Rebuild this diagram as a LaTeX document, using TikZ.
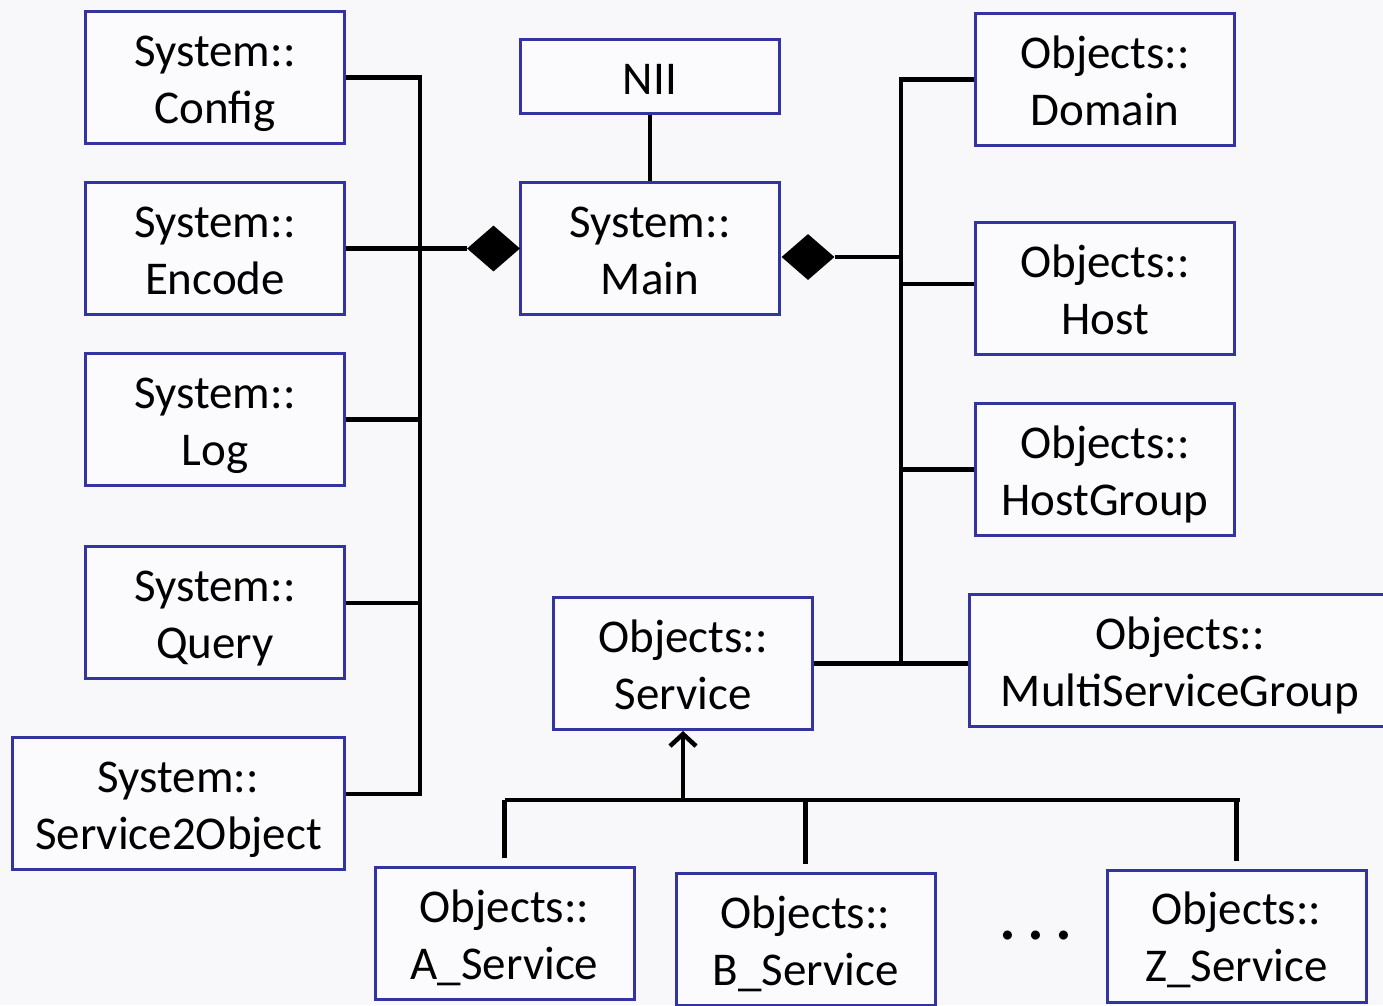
\documentclass[tikz,border=0pt]{standalone}
\usepackage{fontspec}
\setmainfont{Carlito}
\usetikzlibrary{shapes.geometric,arrows.meta}
\definecolor{boxblue}{RGB}{52,52,160}
\definecolor{boxfill}{RGB}{251,251,253}
\definecolor{bgcol}{RGB}{248,248,251}
\newcommand\twolines[2]{\rule{0pt}{46pt}#1\\#2\rule[-12pt]{0pt}{12pt}}
\tikzset{
  box/.style={draw=boxblue, line width=3pt, fill=boxfill, minimum width=259pt,
    minimum height=132pt, align=center, inner sep=0pt,
    font=\fontsize{47}{57}\selectfont},
  conn/.style={line width=4.5pt, draw=black},
  dmd/.style={diamond, fill=black, draw=none, inner sep=0pt, minimum width=53pt, minimum height=46pt},
}
\begin{document}
\begin{tikzpicture}[x=1pt,y=-1pt]
\fill[bgcol] (0,0) rectangle (1383,1005);
\useasboundingbox (0,0) rectangle (1383,1005);
% left column
\node[box] (config) at (215,77.5) {\twolines{System::}{Config}};
\node[box] (encode) at (215,248.5) {\twolines{System::}{Encode}};
\node[box] (log) at (215,419.5) {\twolines{System::}{Log}};
\node[box] (query) at (215,612.5) {\twolines{System::}{Query}};
\node[box, minimum width=332pt] (s2o) at (178.5,803.5) {\twolines{System::}{Service2Object}};
% centre
\node[box, minimum height=74pt] (nii) at (650,76.5) {\rule{0pt}{36pt}NII};
\node[box] (main) at (650,248.5) {\twolines{System::}{Main}};
\node[dmd] (dL) at (493.5,248.5) {};
\node[dmd] (dR) at (808,257) {};
% right column
\node[box] (domain) at (1105,79.5) {\twolines{Objects::}{Domain}};
\node[box] (host) at (1105,288.5) {\twolines{Objects::}{Host}};
\node[box] (hostgroup) at (1105,469.5) {\twolines{Objects::}{HostGroup}};
\node[box, minimum width=421pt] (msg) at (1180,660.5) {\twolines{Objects::}{MultiServiceGroup}};
\node[box] (service) at (683,663.5) {\twolines{Objects::}{Service}};
% bottom row
\node[box] (aserv) at (504.5,933.5) {\twolines{Objects::}{A\_Service}};
\node[box] (bserv) at (805.5,939.5) {\twolines{Objects::}{B\_Service}};
\node[box] (zserv) at (1236.5,936) {\twolines{Objects::}{Z\_Service}};
\node[font=\fontsize{75}{75}\selectfont, inner sep=0pt] (dots) at (1036,936) {.\hspace{9pt}.\hspace{9pt}.};
% left bus
\coordinate (lbt) at (420,77.5);
\coordinate (lbb) at (420,794);
\draw[conn] (config.east) -- (lbt) -- (lbb) -- ([yshift=9.5pt]s2o.east);
\draw[conn] (encode.east) -- (dL.west);
\draw[conn] (log.east) -- (log.east -| lbt);
\draw[conn] ([yshift=9.5pt]query.east) -- ([yshift=9.5pt]query.east -| lbt);
% centre
\draw[conn] (nii) -- (main);
% right bus
\coordinate (rbt) at (901,79.5);
\coordinate (rbb) at (901,663.5);
\draw[conn] (domain.west) -- (rbt) -- (rbb);
\draw[conn] (dR.east) -- (dR.east -| rbt);
\draw[conn] ([yshift=4.5pt]host.west) -- ([yshift=4.5pt]host.west -| rbt);
\draw[conn] (hostgroup.west) -- (hostgroup.west -| rbt);
\draw[conn] (service.east) -- (service.east -| msg.west);
% inheritance
\coordinate (bb1) at (504.5,800);
\coordinate (bb2) at (1240,800);
\draw[conn] (bb1) -- (bb2);
\draw[conn, shorten <=8pt] (aserv.north) -- (aserv.north |- bb1);
\draw[conn, shorten <=8pt] (bserv.north) -- (bserv.north |- bb1);
\draw[conn, shorten <=8pt] (zserv.north) -- (zserv.north |- bb1);
\draw[conn, -{Straight Barb[length=12pt,width=26pt]}] (service.south |- bb1) -- (service.south);
\end{tikzpicture}
\end{document}
